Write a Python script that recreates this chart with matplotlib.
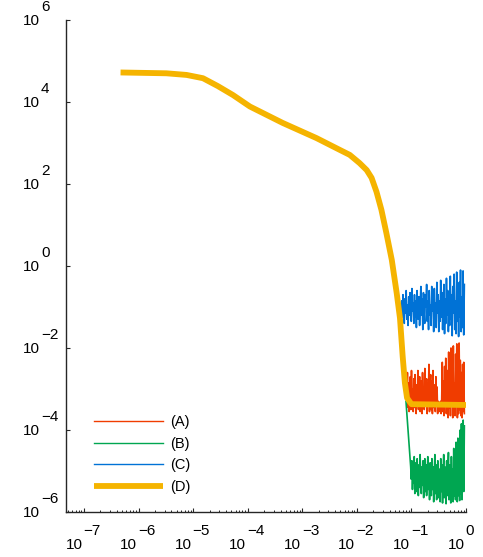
import numpy as np
import matplotlib
matplotlib.use("Agg")
import matplotlib.pyplot as plt
from matplotlib.ticker import LogLocator, NullFormatter, NullLocator

plt.rcParams['font.family'] = ['Liberation Sans', 'DejaVu Sans']

# curve (D): log10 of x and y
d_logx = [-6.33, -5.49, -5.12, -4.82, -4.55, -4.27, -3.96, -3.36, -2.74, -2.31,
          -2.13, -1.95, -1.82, -1.73, -1.64, -1.55, -1.46, -1.36, -1.27, -1.21,
          -1.16, -1.12, -1.08, -1.00, 0.0]
d_logy = [4.72, 4.70, 4.66, 4.58, 4.39, 4.17, 3.89, 3.49, 3.12, 2.83,
          2.71, 2.51, 2.34, 2.15, 1.81, 1.37, 0.81, 0.15, -0.66, -1.27,
          -2.21, -2.85, -3.22, -3.37, -3.39]

# noisy tails, log10 of y (x runs on a log grid between the given ends)
a_range = (-1.084, -0.03)
a_logy = [-3.20, -2.60, -3.45, -2.85, -3.55, -3.10, -2.70, -3.50, -2.55, -3.35,
          -3.00, -3.55, -2.75, -3.45, -2.65, -3.25, -3.60, -2.90, -3.40, -2.55,
          -3.50, -3.05, -2.70, -3.55, -2.80, -3.30, -3.60, -2.60, -3.45, -2.95,
          -3.50, -2.50, -3.40, -3.15, -2.75, -3.60, -2.85, -3.35, -2.40, -3.55,
          -3.00, -2.65, -3.50, -2.80, -3.60, -2.55, -3.45, -3.20, -2.90, -3.55,
          -2.70, -3.40, -2.95, -3.60, -3.30, -3.50, -3.35, -3.55, -3.30, -3.60,
          -3.25, -2.35, -3.55, -2.80, -3.65, -2.45, -3.35, -2.25, -3.60, -3.00,
          -2.55, -3.70, -2.10, -3.45, -2.65, -3.65, -2.00, -3.30, -2.40, -3.70,
          -1.95, -3.55, -2.85, -3.65, -2.15, -3.40, -1.90, -3.70, -2.50, -3.60,
          -1.88, -3.50, -2.30, -3.65, -2.60, -3.70, -2.40, -3.55, -2.35, -3.60]

b_range = (-1.10, -0.03)
b_logy = [-3.30, -3.50, -3.70, -3.90, -4.10, -4.30, -4.50, -4.70, -4.90, -5.20,
          -4.75, -5.45, -4.95, -5.30, -4.65, -5.55, -5.05, -4.80, -5.50, -4.70,
          -5.25, -5.60, -4.85, -5.40, -4.60, -5.15, -5.55, -4.90, -5.35, -4.75,
          -5.65, -5.00, -4.70, -5.50, -4.85, -5.60, -5.10, -4.65, -5.45, -4.95,
          -5.70, -4.80, -5.30, -5.60, -4.70, -5.45, -4.90, -5.75, -5.05, -4.60,
          -5.55, -4.85, -5.70, -5.20, -4.75, -5.65, -4.95, -5.40, -5.75, -4.70,
          -5.50, -4.85, -5.78, -5.10, -4.60, -5.65, -4.90, -5.45, -5.80, -4.75,
          -5.60, -5.00, -4.55, -5.70, -4.85, -5.40, -5.78, -4.65, -5.55, -4.95,
          -5.75, -4.45, -5.60, -4.90, -5.70, -4.30, -5.50, -5.75, -4.20, -5.60,
          -4.60, -5.72, -4.00, -5.55, -3.85, -5.70, -4.40, -3.76, -5.50, -3.90]

c_range = (-1.19, -0.03)
c_logy = [-1.10, -0.85, -1.25, -0.70, -1.05, -1.40, -0.80, -1.15, -0.60, -1.30,
          -0.95, -1.45, -0.75, -1.20, -0.65, -1.00, -1.35, -0.55, -1.10, -0.90,
          -1.40, -0.70, -1.25, -0.85, -1.50, -0.60, -1.05, -1.30, -0.75, -1.45,
          -0.95, -0.50, -1.20, -0.80, -1.55, -0.65, -1.15, -1.40, -0.70, -1.00,
          -0.45, -1.35, -0.85, -1.55, -0.60, -1.20, -0.95, -1.45, -0.50, -1.10,
          -0.75, -1.60, -0.55, -1.30, -0.90, -1.50, -0.40, -1.15, -0.70, -1.60,
          -0.85, -1.35, -0.35, -1.25, -0.65, -1.55, -1.00, -0.45, -1.65, -0.80,
          -1.40, -0.30, -1.20, -0.60, -1.60, -0.95, -1.45, -0.25, -1.30, -0.70,
          -1.70, -0.50, -1.15, -0.20, -1.55, -0.85, -1.65, -0.15, -1.35, -0.55,
          -1.72, -0.40, -1.25, -0.10, -1.60, -0.75, -1.50, -0.12, -1.68, -0.45]

labels = ['(A)', '(B)', '(C)', '(D)']
colors = ['#f03c00', '#00a651', '#0072d6', '#f5b400']

x_exps = list(range(-7, 1))
y_exps = [-6, -4, -2, 0, 2, 4, 6]


def tail(rng, logy):
    x = np.logspace(rng[0], rng[1], len(logy))
    return x, 10.0 ** np.array(logy)


fig = plt.figure(figsize=(4.83, 5.57), dpi=100)
ax = fig.add_axes([0.1366, 0.0808, 0.8282, 0.8833])

for rng, logy, lab, col in zip([a_range, b_range, c_range],
                               [a_logy, b_logy, c_logy], labels[:3], colors[:3]):
    x, y = tail(rng, logy)
    ax.plot(x, y, color=col, lw=1.2, label=lab)

ax.plot(10.0 ** np.array(d_logx), 10.0 ** np.array(d_logy),
        color=colors[3], lw=4.2, solid_capstyle='butt', solid_joinstyle='round',
        label=labels[3])

ax.set_xscale('log')
ax.set_yscale('log')
ax.set_xlim(10 ** -7.33, 1.0)
ax.set_ylim(1e-6, 1e6)

for s in ['top', 'right']:
    ax.spines[s].set_visible(False)
for s in ['left', 'bottom']:
    ax.spines[s].set_linewidth(1.0)
    ax.spines[s].set_color('#262626')

ax.set_xticks([10.0 ** e for e in x_exps])
ax.xaxis.set_minor_locator(LogLocator(base=10, subs=np.arange(2, 10), numticks=20))
ax.xaxis.set_minor_formatter(NullFormatter())
ax.set_yticks([10.0 ** e for e in y_exps])
ax.yaxis.set_minor_locator(NullLocator())
ax.set_xticklabels([])
ax.set_yticklabels([])
ax.tick_params(which='major', direction='in', length=3, width=0.8, color='#262626')
ax.tick_params(which='minor', direction='in', length=1.6, width=0.7, color='#262626')

fs = 11
for e in x_exps:
    ax.annotate('10', xy=(10.0 ** e, 0), xycoords=('data', 'axes fraction'),
                xytext=(-1.5, -33), textcoords='offset pixels',
                ha='right', va='center', fontsize=fs)
    ax.annotate(str(e).replace('-', '\u2212'), xy=(10.0 ** e, 0),
                xycoords=('data', 'axes fraction'),
                xytext=(-0.5, -19), textcoords='offset pixels',
                ha='left', va='center', fontsize=fs)
for e in y_exps:
    ax.annotate('10', xy=(0, 10.0 ** e), xycoords=('axes fraction', 'data'),
                xytext=(-26, -1.5), textcoords='offset pixels',
                ha='right', va='center', fontsize=fs)
    ax.annotate(str(e).replace('-', '\u2212'), xy=(0, 10.0 ** e),
                xycoords=('axes fraction', 'data'),
                xytext=(-25, 13), textcoords='offset pixels',
                ha='left', va='center', fontsize=fs)

leg = ax.legend(loc='lower left', bbox_to_anchor=(0.07, 0.037), frameon=False,
                fontsize=10.5, handlelength=4.7, handletextpad=0.55,
                labelspacing=0.52, borderpad=0, borderaxespad=0)
for h in leg.get_lines()[:3]:
    h.set_linewidth(1.0)

fig.savefig('out.png', dpi=100)
